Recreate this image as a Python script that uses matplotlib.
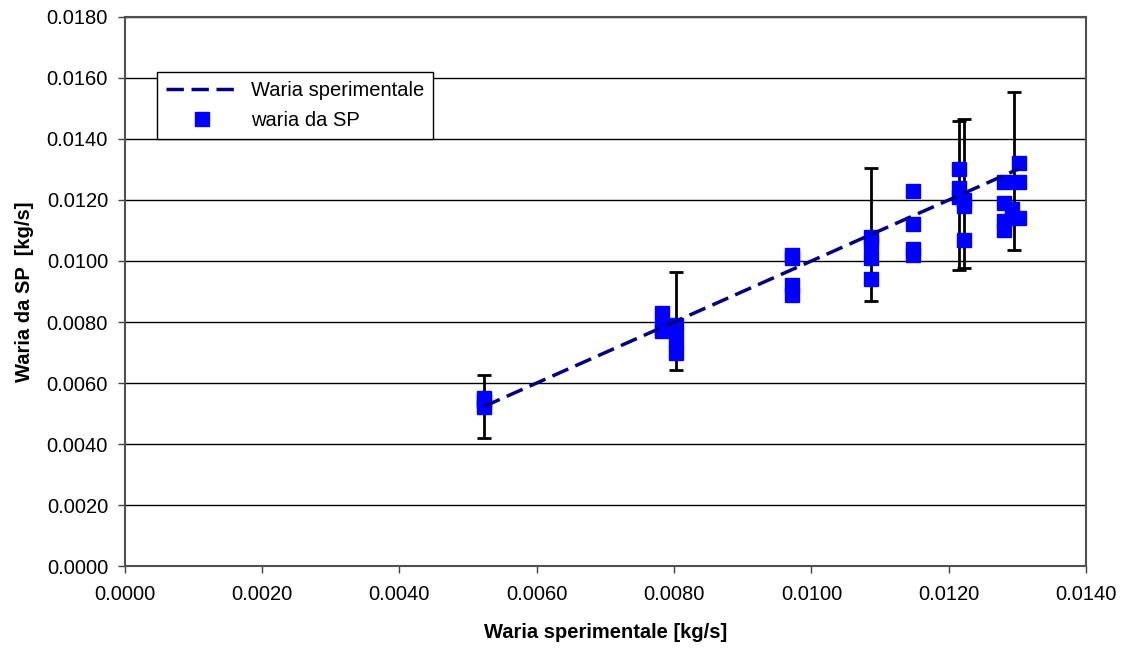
import numpy as np
import matplotlib
matplotlib.use("Agg")
import matplotlib.pyplot as plt
from matplotlib.ticker import MultipleLocator, FormatStrFormatter

plt.rcParams['font.family'] = ['Liberation Sans', 'DejaVu Sans']

# portata sperimentale (linea y = x) e barre d'errore +-20%
x_sper = [0.00523, 0.00783, 0.00803, 0.00972, 0.01087, 0.01148, 0.01215, 0.01222, 0.01281, 0.01295, 0.01303]
x_err = [0.00523, 0.00803, 0.01087, 0.01215, 0.01222, 0.01295]
err_frac = 0.20

# portata calcolata da SP
x_sp = [0.00523, 0.00523, 0.00523,
        0.00783, 0.00783, 0.00783,
        0.00803, 0.00803, 0.00803,
        0.00972, 0.00972, 0.00972, 0.00972,
        0.01087, 0.01087, 0.01087, 0.01087,
        0.01148, 0.01148, 0.01148, 0.01148,
        0.01215, 0.01215, 0.01215,
        0.01222, 0.01222, 0.01222,
        0.01281, 0.01281, 0.01281, 0.01281,
        0.01292,
        0.01303, 0.01303, 0.01303]
y_sp = [0.0055, 0.0054, 0.0052,
        0.0083, 0.0078, 0.0077,
        0.0079, 0.0074, 0.0070,
        0.0102, 0.0101, 0.0092, 0.0089,
        0.0108, 0.0106, 0.0101, 0.0094,
        0.0123, 0.0112, 0.0104, 0.0102,
        0.0130, 0.0124, 0.0121,
        0.0120, 0.0118, 0.0107,
        0.0126, 0.0119, 0.0113, 0.0110,
        0.0117,
        0.0132, 0.0126, 0.0114]

fig = plt.figure(figsize=(11.26, 6.48), dpi=100)
fig.set_facecolor('white')
ax = fig.add_axes([0.1108, 0.1265, 0.8537, 0.8473])

ax.yaxis.grid(True, color='black', linewidth=1.0, zorder=0)
ax.set_axisbelow(True)

# linea sperimentale
ax.plot(x_sper, x_sper, color='#000080', linewidth=2.5, dashes=(5, 2.2),
        label='Waria sperimentale', zorder=4)
xe = np.array(x_err)
ax.errorbar(xe, xe, yerr=err_frac * xe, fmt='none', ecolor='black',
            elinewidth=2, capsize=4.7, capthick=2, zorder=2)

ax.plot(x_sp, y_sp, linestyle='none', marker='s', markersize=10,
        color='#0000FF', markeredgecolor='#0000FF', label='waria da SP', zorder=3)

ax.set_xlim(0, 0.014)
ax.set_ylim(0, 0.018)
ax.xaxis.set_major_locator(MultipleLocator(0.002))
ax.yaxis.set_major_locator(MultipleLocator(0.002))
ax.xaxis.set_major_formatter(FormatStrFormatter('%.4f'))
ax.yaxis.set_major_formatter(FormatStrFormatter('%.4f'))
ax.tick_params(direction='out', length=5, width=1, labelsize=14.5, color='#404040')
ax.tick_params(axis='y', pad=7)
ax.tick_params(axis='x', pad=9)

for s in ax.spines.values():
    s.set_color('#505050')
    s.set_linewidth(1.5)

ax.set_xlabel('Waria sperimentale [kg/s]', fontsize=14.5, fontweight='bold', labelpad=13)
ax.set_ylabel('Waria da SP  [kg/s]', fontsize=14.5, fontweight='bold', labelpad=9)

lg = ax.legend(loc='upper left', bbox_to_anchor=(0.1394, 0.8889),
               bbox_transform=fig.transFigure, fontsize=14.5, frameon=True,
               fancybox=False, borderaxespad=0, handlelength=3.6,
               handletextpad=0.6, borderpad=0.45, labelspacing=0.55,
               numpoints=1)
lg.get_frame().set_edgecolor('black')
lg.get_frame().set_linewidth(1.0)
lg.get_frame().set_alpha(1)

fig.savefig('out.png', dpi=100)
